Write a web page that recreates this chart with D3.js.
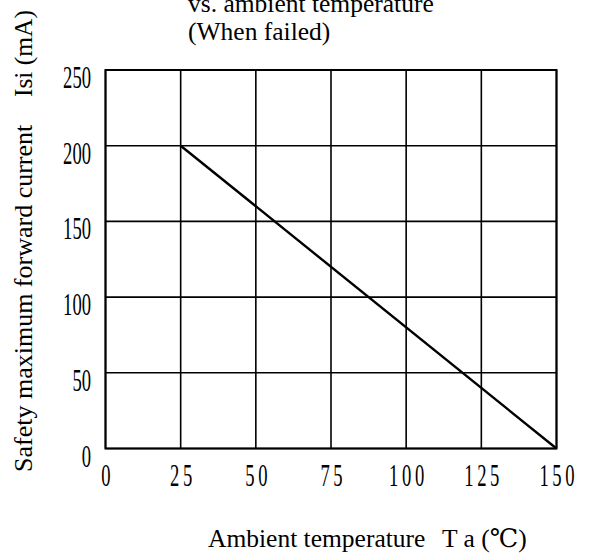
<!DOCTYPE html>
<meta charset="utf-8">
<style>
  body { margin: 0; background: #fff; }
  svg { display: block; }
  svg text { font-family: "Liberation Serif", "DejaVu Serif", serif; fill: #000; }
  .grid line { stroke: #000; stroke-width: 1.6px; }
  .axis path { display: none; }
  .axis line { stroke: none; }
  .axis text { font-size: 31px; }
</style>
<body></body>
<script src="https://d3js.org/d3.v7.min.js"></script>
<script>
  // chart values
  var tempTicks = [0, 25, 50, 75, 100, 125, 150];
  var currentTicks = [0, 50, 100, 150, 200, 250];
  var deratingTemp = [25, 150];
  var deratingCurrent = [200, 0];

  var margin = { top: 70, left: 105.5 },
    width = 451,
    height = 378.5,
    squeeze = 0.6; // narrow digits of the original

  var x = d3.scaleLinear().domain([0, 150]).range([0, width]);
  var y = d3.scaleLinear().domain([0, 250]).range([height, 0]);

  var svg = d3.select("body").append("svg")
    .attr("width", 589)
    .attr("height", 559);

  var g = svg.append("g")
    .attr("transform", "translate(" + margin.left + "," + margin.top + ")");

  // grid
  g.append("g").attr("class", "grid")
    .selectAll("line.v").data(tempTicks).enter().append("line")
    .attr("x1", function(d) { return x(d); })
    .attr("x2", function(d) { return x(d); })
    .attr("y1", 0).attr("y2", height);
  g.select(".grid")
    .selectAll("line.h").data(currentTicks).enter().append("line")
    .attr("y1", function(d) { return y(d); })
    .attr("y2", function(d) { return y(d); })
    .attr("x1", 0).attr("x2", width);

  // frame
  g.append("rect")
    .attr("width", width).attr("height", height)
    .attr("fill", "none").attr("stroke", "#000").attr("stroke-width", 2);

  // x axis labels
  var xAxis = g.append("g").attr("class", "axis")
    .attr("font-family", null)
    .call(d3.axisBottom(x).tickValues(tempTicks).tickSize(0).tickFormat(d3.format("d")));
  xAxis.attr("transform", "translate(0," + height + ")").attr("font-family", null).attr("font-size", null);
  xAxis.selectAll("text")
    .attr("y", 38).attr("dy", 0)
    .attr("dx", 3)
    .style("letter-spacing", "6px")
    .attr("transform", "scale(" + squeeze + ",1)");

  // y axis labels
  var yAxis = g.append("g").attr("class", "axis")
    .call(d3.axisLeft(y).tickValues(currentTicks).tickSize(0).tickFormat(d3.format("d")));
  yAxis.attr("font-family", null).attr("font-size", null);
  yAxis.selectAll("text")
    .attr("x", -14.5 / squeeze).attr("dy", 0).attr("y", 17.5)
    .attr("transform", "scale(" + squeeze + ",1)");

  // derating line
  var line = d3.line()
    .x(function(d, i) { return x(d); })
    .y(function(d, i) { return y(deratingCurrent[i]); });
  g.append("path")
    .datum(deratingTemp)
    .attr("d", line)
    .attr("fill", "none")
    .attr("stroke", "#000")
    .attr("stroke-width", 2.4);

  // titles
  var title = svg.append("g").style("font-size", "25.5px");
  title.append("text").attr("x", 188).attr("y", 12).text("vs. ambient temperature");
  title.append("text").attr("x", 188).attr("y", 40).text("(When failed)");

  svg.append("text")
    .attr("x", 208).attr("y", 547)
    .style("font-size", "25.5px")
    .text("Ambient temperature");
  svg.append("text")
    .attr("x", 442).attr("y", 547)
    .style("font-size", "25.5px")
    .text("T a (℃)");

  svg.append("text")
    .attr("transform", "translate(32,472) rotate(-90)")
    .style("font-size", "26px")
    .text("Safety maximum forward current");
  svg.append("text")
    .attr("transform", "translate(32,10) rotate(-90)")
    .attr("text-anchor", "end")
    .style("font-size", "25.5px")
    .text("Isi (mA)");
</script>
